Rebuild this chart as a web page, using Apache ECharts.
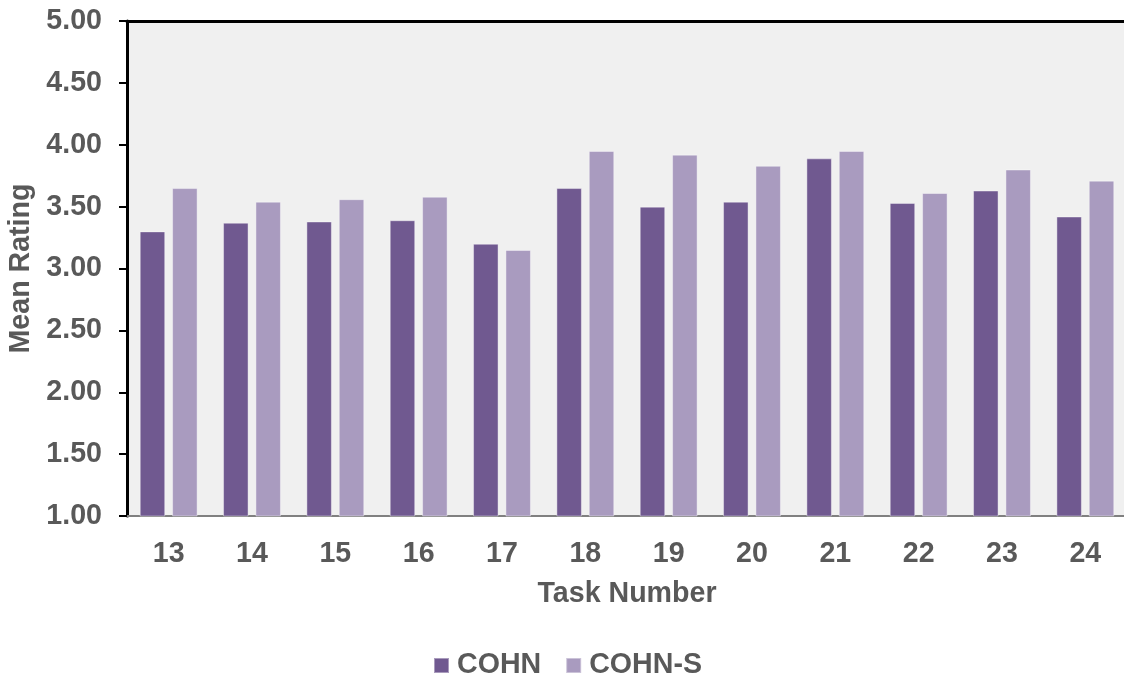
<!DOCTYPE html>
<html>
<head>
<meta charset="utf-8">
<script src="https://cdn.jsdelivr.net/npm/echarts@6/dist/echarts.min.js"></script>
<style>
  html, body { margin: 0; padding: 0; background: #ffffff; }
  #chart { width: 1124px; height: 678px; }
</style>
</head>
<body>
<div id="chart"></div>
<script>
const tasks = ['13', '14', '15', '16', '17', '18', '19', '20', '21', '22', '23', '24']
const cohn = [3.30, 3.37, 3.38, 3.39, 3.20, 3.65, 3.50, 3.54, 3.89, 3.53, 3.63, 3.42]
const cohnS = [3.65, 3.54, 3.56, 3.58, 3.15, 3.95, 3.92, 3.83, 3.95, 3.61, 3.80, 3.71]
const yTicks = { min: 1, max: 5, step: 0.5 }

const textColor = '#595959'
const font = 'Liberation Sans, Arial, sans-serif'
const fs = 28.6

const chart = echarts.init(document.getElementById('chart'))

chart.setOption({
  animation: false,
  textStyle: { fontFamily: font },
  grid: {
    left: 127,
    right: -3,
    top: 21,
    bottom: 162,
    outerBoundsMode: 'none',
    containLabel: false,
    show: true,
    backgroundColor: '#f0f0f0',
    borderWidth: 0,
  },
  legend: {
    top: 646,
    left: 428,
    itemWidth: 15,
    itemHeight: 15,
    itemGap: 24,
    icon: 'rect',
    textStyle: {
      color: textColor,
      fontSize: fs,
      fontWeight: 'bold',
      fontFamily: font,
      padding: [0, 0, 0, 3],
    },
    data: ['COHN', 'COHN-S'],
  },
  xAxis: [
    {
      type: 'category',
      data: tasks,
      name: 'Task Number',
      nameLocation: 'middle',
      nameGap: 64,
      nameTextStyle: { color: textColor, fontSize: fs, fontWeight: 'bold' },
      axisLine: { lineStyle: { color: '#808080', width: 2 } },
      axisTick: { show: false },
      axisLabel: { color: textColor, fontSize: fs, fontWeight: 'bold', margin: 24 },
    },
    {
      type: 'category',
      data: tasks,
      position: 'top',
      axisLine: { lineStyle: { color: '#000000', width: 3 } },
      axisTick: { show: false },
      axisLabel: { show: false },
    },
  ],
  yAxis: {
    type: 'value',
    min: yTicks.min,
    max: yTicks.max,
    interval: yTicks.step,
    name: 'Mean Rating',
    nameLocation: 'middle',
    nameGap: 85,
    nameTextStyle: { color: textColor, fontSize: fs, fontWeight: 'bold' },
    axisLine: { show: true, lineStyle: { color: '#000000', width: 3 } },
    axisTick: { show: true, length: 8, lineStyle: { color: '#000000', width: 2 } },
    axisLabel: {
      color: textColor,
      fontSize: fs,
      fontWeight: 'bold',
      margin: 25,
      formatter: (v) => v.toFixed(2),
    },
    splitLine: { show: false },
  },
  series: [
    {
      name: 'COHN',
      type: 'bar',
      data: cohn,
      barWidth: 25.5,
      barGap: '27%',
      itemStyle: { color: '#705990', borderColor: 'rgba(255,255,255,0.4)', borderWidth: 1 },
    },
    {
      name: 'COHN-S',
      type: 'bar',
      data: cohnS,
      barWidth: 25.5,
      barGap: '27%',
      itemStyle: { color: '#a99bbf', borderColor: 'rgba(255,255,255,0.4)', borderWidth: 1 },
    },
  ],
})
</script>
</body>
</html>
